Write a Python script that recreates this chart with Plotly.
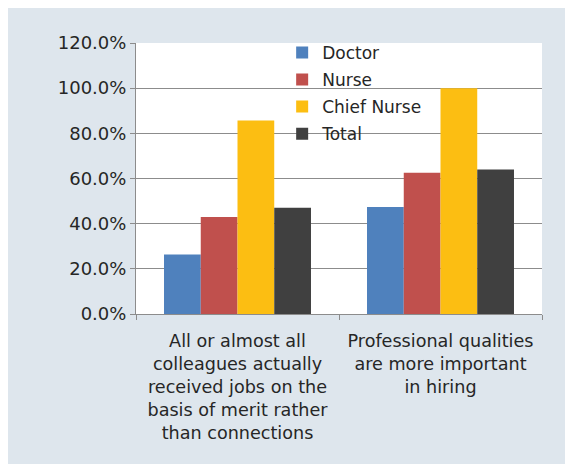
import plotly.graph_objects as go

categories = [
    "All or almost all<br>colleagues actually<br>received jobs on the<br>basis of merit rather<br>than connections",
    "Professional qualities<br>are more important<br>in hiring",
]
series_names = ["Doctor", "Nurse", "Chief Nurse", "Total"]
doctor = [0.263, 0.474]
nurse = [0.429, 0.625]
chief_nurse = [0.857, 1.0]
total = [0.471, 0.640]
y_ticks = [0, 0.2, 0.4, 0.6, 0.8, 1.0, 1.2]

colors = ["#4f81bd", "#c0504d", "#fcbe12", "#404040"]
values = [doctor, nurse, chief_nurse, total]

FONT = "DejaVu Sans"
TXT = "#262626"
GRID = "#8c8c8c"

fig = go.Figure()
for name, vals, col in zip(series_names, values, colors):
    fig.add_trace(go.Bar(
        x=categories, y=vals, name=name, legendgroup=name,
        marker=dict(color=col, line=dict(width=0)),
    ))

# page body adds an 8px margin at top/left
W, H = 565, 456
L, R, T, B = 128, 31, 35, 150

fig.update_layout(
    width=W, height=H,
    margin=dict(l=L, r=R, t=T, b=B, pad=0),
    paper_bgcolor="#dee6ed",
    plot_bgcolor="white",
    barmode="group",
    bargap=0.276,
    bargroupgap=0,
    font=dict(family=FONT, color=TXT, size=17),
    showlegend=True,
    legend=dict(
        x=0.36, y=1.03, xanchor="left", yanchor="top",
        bgcolor="rgba(0,0,0,0)", borderwidth=0,
        font=dict(family=FONT, size=17, color=TXT),
        tracegroupgap=2,
        traceorder="grouped",
    ),
    xaxis=dict(
        showline=True, linecolor=GRID, linewidth=1,
        ticks="outside", ticklen=5, tickcolor=GRID,
        tickson="boundaries",
        showgrid=False,
        tickfont=dict(family=FONT, size=17.6, color=TXT),
        tickangle=0,
        ticklabelstandoff=11,
    ),
    yaxis=dict(
        range=[0, 1.2], tickvals=y_ticks, tickformat=".1%",
        showline=True, linecolor=GRID, linewidth=1,
        ticks="outside", ticklen=5, tickcolor=GRID,
        showgrid=True, gridcolor=GRID, gridwidth=1,
        zeroline=False,
        tickfont=dict(family=FONT, size=18, color=TXT),
    ),
)

fig.write_html("out.html")
